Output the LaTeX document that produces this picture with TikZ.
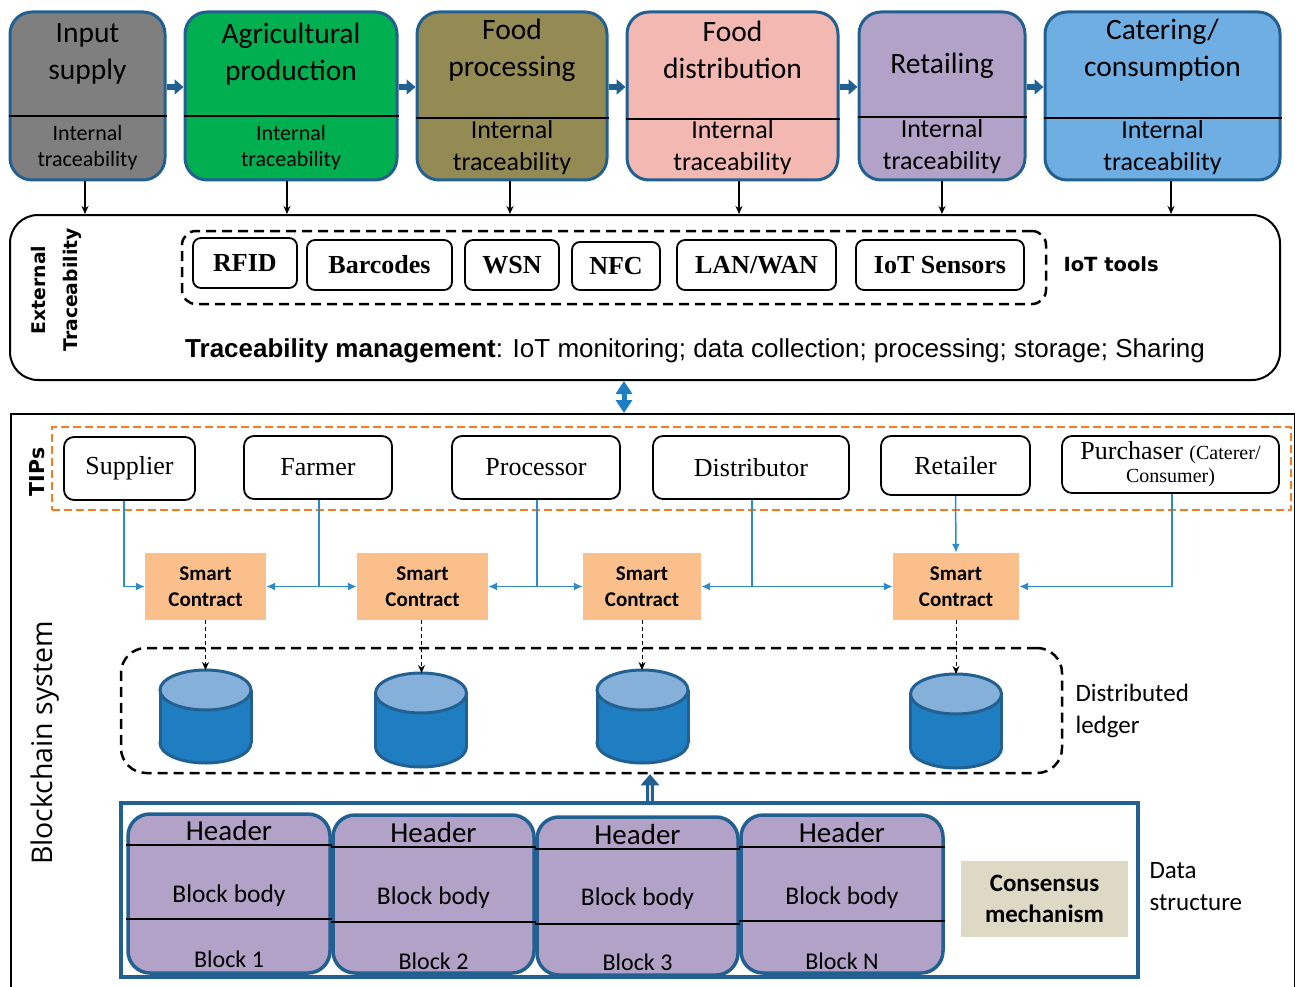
\documentclass[tikz,border=0pt]{standalone}
\usepackage{fontspec}
\setmainfont{Carlito}
\newfontfamily\tnr{Liberation Serif}
\newfontfamily\arl{Liberation Sans}
\newfontfamily\dvs{DejaVu Sans}
\newfontfamily\osn{Open Sans}
\usetikzlibrary{arrows.meta,calc}
\newcommand\myfs[2]{\fontsize{#1}{#2}\selectfont}
\definecolor{dkblue}{RGB}{34,96,145}
\definecolor{cgray}{RGB}{127,127,127}
\definecolor{cgreen}{RGB}{0,176,80}
\definecolor{colive}{RGB}{148,138,84}
\definecolor{cpink}{RGB}{243,184,178}
\definecolor{cpurple}{RGB}{179,162,199}
\definecolor{csky}{RGB}{111,174,226}
\definecolor{corange}{RGB}{245,124,32}
\definecolor{scor}{RGB}{251,191,139}
\definecolor{bl}{RGB}{46,139,203}
\definecolor{cylbody}{RGB}{31,125,193}
\definecolor{cyltop}{RGB}{133,176,218}
\definecolor{cons}{RGB}{221,217,196}
\definecolor{dblue}{RGB}{31,125,193}
\newcommand\mycyl[4]{%
  \fill[cylbody] (#2-45.5,#3+20) rectangle (#2+45.5,#4-20);
  \filldraw[fill=cylbody, draw=dkblue, line width=3pt] (#2,#4-20) ellipse (45.5pt and 20pt);
  \fill[cylbody] (#2-44,#3+20) rectangle (#2+44,#4-20);
  \draw[dkblue, line width=3pt] (#2-45.5,#3+20) -- (#2-45.5,#4-20);
  \draw[dkblue, line width=3pt] (#2+45.5,#3+20) -- (#2+45.5,#4-20);
  \filldraw[fill=cyltop, draw=dkblue, line width=3pt] (#2,#3+20) ellipse (45.5pt and 20pt);
  \coordinate (#1) at (#2,#3);}
\begin{document}
\begin{tikzpicture}[x=1pt,y=-1pt,
  topbox/.style={draw=dkblue, line width=3pt, rounded corners=22pt, inner sep=0pt},
  divl/.style={line width=1.3pt, black},
  ttl/.style={font=\myfs{29.5}{37}, align=center},
  itrs/.style={font=\myfs{22}{26}, align=center},
  itrl/.style={font=\myfs{26}{32}, align=center},
  flowarr/.style={dkblue, line width=6pt, -{Triangle[length=9pt,width=15pt]}},
  darr/.style={black, line width=1.6pt, -{Stealth[length=8pt,width=7pt]}},
  toolbox/.style={draw, line width=1.8pt, rounded corners=8pt, font=\tnr\bfseries\myfs{26}{30}, inner sep=0pt},
  tipbox/.style={draw, line width=1.8pt, rounded corners=10pt, font=\tnr\myfs{26}{30}, inner sep=0pt, fill=white, align=center},
  scbox/.style={fill=scor, font=\bfseries\myfs{21}{26}, align=center, inner sep=0pt},
  blink/.style={bl, line width=1.5pt, -{Latex[length=9pt,width=8pt]}},
  blinkn/.style={bl, line width=1.5pt},
  dasharr/.style={black, line width=1pt, dash pattern=on 4pt off 3pt, -{Stealth[length=8pt,width=7pt]}},
  blockbox/.style={draw=dkblue, line width=3.5pt, rounded corners=22pt, fill=cpurple, inner sep=0pt},
  hdr/.style={font=\myfs{29}{32}},
  bbody/.style={font=\myfs{25.5}{30}},
  bnum/.style={font=\myfs{24}{28}},
  side/.style={font=\myfs{25}{32}, align=left, anchor=west}
]
\useasboundingbox (0,0) rectangle (1295,987);

% ---------- top row ----------
\node[topbox, fill=cgray, minimum width=155pt, minimum height=168pt] (b1) at (87.5,96) {};
\node[topbox, fill=cgreen, minimum width=212pt, minimum height=168pt] (b2) at (291,96) {};
\node[topbox, fill=colive, minimum width=190pt, minimum height=168pt] (b3) at (512,96) {};
\node[topbox, fill=cpink, minimum width=211pt, minimum height=168pt] (b4) at (732.5,96) {};
\node[topbox, fill=cpurple, minimum width=166pt, minimum height=168pt] (b5) at (942,96) {};
\node[topbox, fill=csky, minimum width=235pt, minimum height=168pt] (b6) at (1162.5,96) {};

\draw[divl] (b1.west |- 0,116) -- (b1.east |- 0,116);
\draw[divl] (b2.west |- 0,116) -- (b2.east |- 0,116);
\draw[divl] (b3.west |- 0,118) -- (b3.east |- 0,118);
\draw[divl] (b4.west |- 0,119) -- (b4.east |- 0,119);
\draw[divl] (b5.west |- 0,117) -- (b5.east |- 0,117);
\draw[divl] (b6.west |- 0,118) -- (b6.east |- 0,118);

\node[ttl] (t1) at (87.5,54) {Input\\supply};
\node[ttl] (t2) at (291,54) {Agricultural\\production};
\node[ttl] (t3) at (512,50) {Food\\processing};
\node[ttl] (t4) at (732.5,50) {Food\\distribution};
\node[ttl] (t5) at (942,66) {Retailing};
\node[ttl] (t6) at (1162.5,50) {Catering/\\consumption};

\node[itrs] (i1) at (87.5,148) {Internal\\traceability};
\node[itrs] (i2) at (291,148) {Internal\\traceability};
\node[itrl] (i3) at (512,148) {Internal\\traceability};
\node[itrl] (i4) at (732.5,148) {Internal\\traceability};
\node[itrl] (i5) at (942,147) {Internal\\traceability};
\node[itrl] (i6) at (1162.5,148) {Internal\\traceability};

\draw[flowarr] (b1.east |- 0,87) -- (b2.west |- 0,87);
\draw[flowarr] (b2.east |- 0,87) -- (b3.west |- 0,87);
\draw[flowarr] (b3.east |- 0,87) -- (b4.west |- 0,87);
\draw[flowarr] (b4.east |- 0,87) -- (b5.west |- 0,87);
\draw[flowarr] (b5.east |- 0,87) -- (b6.west |- 0,87);

% ---------- external traceability ----------
\node[draw, line width=2pt, rounded corners=28pt, minimum width=1270pt, minimum height=165pt, inner sep=0pt] (ext) at (645,297.5) {};

\draw[darr] (b1.south -| 85,0) -- (ext.north -| 85,0);
\draw[darr] (b2.south -| 287,0) -- (ext.north -| 287,0);
\draw[darr] (b3.south -| 510,0) -- (ext.north -| 510,0);
\draw[darr] (b4.south -| 739,0) -- (ext.north -| 739,0);
\draw[darr] (b5.south -| 942,0) -- (ext.north -| 942,0);
\draw[darr] (b6.south -| 1171,0) -- (ext.north -| 1171,0);

\node[rotate=90, font=\dvs\bfseries\myfs{18.8}{32}, align=center] (extl) at (56,290) {External\\Traceability};

\node[draw, line width=2.5pt, dash pattern=on 10pt off 6pt, rounded corners=14pt, minimum width=864pt, minimum height=73pt, inner sep=0pt] (iot) at (614,267.5) {};
\node[toolbox, minimum width=104pt, minimum height=50pt] (rfid) at (245,263) {RFID};
\node[toolbox, minimum width=145pt, minimum height=50pt] (bar) at (379.5,265) {Barcodes};
\node[toolbox, minimum width=94pt, minimum height=50pt] (wsn) at (512,265) {WSN};
\node[toolbox, minimum width=88pt, minimum height=48pt] (nfc) at (616,266) {NFC};
\node[toolbox, minimum width=159pt, minimum height=50pt] (lan) at (756.5,265) {LAN/WAN};
\node[toolbox, minimum width=168pt, minimum height=50pt] (sens) at (940,265) {IoT Sensors};
\node[anchor=west, font=\dvs\bfseries\myfs{19.5}{24}] (iotl) at (1060,264) {IoT tools};

\node[anchor=base west, font=\arl\myfs{26}{30}, inner sep=0pt] (tm) at (185,357) {\textbf{Traceability management}: IoT monitoring; data collection; processing; storage; Sharing};

% ---------- blockchain system ----------
\node[draw, line width=2pt, minimum width=1284pt, minimum height=600pt, anchor=north west, inner sep=0pt] (bcs) at (10,413) {};
\draw[dblue, line width=5pt, {Triangle[length=13pt,width=16pt]}-{Triangle[length=13pt,width=16pt]}] (ext.south -| 624,0) -- (bcs.north -| 624,0);

\node[rotate=90, font=\dvs\bfseries\myfs{20.5}{24}] (tipsl) at (37,472) {TIPs};
\node[rotate=90, font=\osn\myfs{28.5}{32}] (bcl) at (45,743) {Blockchain system};

\node[draw=corange, line width=2.5pt, dash pattern=on 8pt off 4pt, minimum width=1239pt, minimum height=83pt, inner sep=0pt] (tips) at (671.5,468.5) {};
\node[tipbox, minimum width=131pt, minimum height=63pt] (sup) at (129.5,468.5) {Supplier};
\node[tipbox, minimum width=148pt, minimum height=63pt] (far) at (318,467.5) {Farmer};
\node[tipbox, minimum width=168pt, minimum height=63pt] (pro) at (536,467.5) {Processor};
\node[tipbox, minimum width=196pt, minimum height=63pt] (dis) at (751,467.5) {Distributor};
\node[tipbox, minimum width=149pt, minimum height=59pt] (ret) at (955.5,465.5) {Retailer};
\node[tipbox, minimum width=217pt, minimum height=57pt, font=\tnr\myfs{26}{27}] (pur) at (1170.5,464.5) {\raisebox{-3pt}{Purchaser {\myfs{20}{24}(Caterer/}}\\[-1pt]{\myfs{20}{24}Consumer)}};

\node[scbox, minimum width=121pt, minimum height=67pt] (sc1) at (205.5,586.5) {Smart\\Contract};
\node[scbox, minimum width=131pt, minimum height=67pt] (sc2) at (422.5,586.5) {Smart\\Contract};
\node[scbox, minimum width=118pt, minimum height=67pt] (sc3) at (642,586.5) {Smart\\Contract};
\node[scbox, minimum width=126pt, minimum height=67pt] (sc4) at (956,586.5) {Smart\\Contract};

\draw[blink] ([xshift=-5.5pt]sup.south) |- (sc1.west);
\coordinate (jf) at ([xshift=1pt]far.south |- sc1.east);
\draw[blinkn] ([xshift=1pt]far.south) -- (jf);
\draw[blink] (jf) -- (sc1.east);
\draw[blink] (jf) -- (sc2.west);
\coordinate (jp) at ([xshift=1pt]pro.south |- sc2.east);
\draw[blinkn] ([xshift=1pt]pro.south) -- (jp);
\draw[blink] (jp) -- (sc2.east);
\draw[blink] (jp) -- (sc3.west);
\coordinate (jd) at ([xshift=1pt]dis.south |- sc3.east);
\draw[blinkn] ([xshift=1pt]dis.south) -- (jd);
\draw[blink] (jd) -- (sc3.east);
\draw[blink] (jd) -- (sc4.west);
\draw[blink] (ret.south) -- (sc4.north);
\draw[blink] ([xshift=1.5pt]pur.south) |- (sc4.east);

% ---------- distributed ledger ----------
\node[draw, line width=2.5pt, dash pattern=on 10pt off 6pt, rounded corners=25pt, minimum width=941pt, minimum height=125pt, inner sep=0pt] (led) at (591.5,710.5) {};
\mycyl{cy1}{205.5}{670}{763}
\mycyl{cy2}{421}{673}{767}
\mycyl{cy3}{642.5}{670}{763}
\mycyl{cy4}{956}{674}{768}
\draw[dasharr] (sc1.south) -- (sc1.south |- cy1);
\draw[dasharr] ([xshift=-1pt]sc2.south) -- ([xshift=-1pt]sc2.south |- cy2);
\draw[dasharr] (sc3.south) -- (sc3.south |- cy3);
\draw[dasharr] (sc4.south) -- (sc4.south |- cy4);
\node[side] (dll) at (1072,711) {Distributed\\ledger};

% ---------- data structure ----------
\node[draw=dkblue, line width=3.5pt, fill=white, minimum width=1017pt, minimum height=174pt, inner sep=0pt] (ds) at (629.5,890) {};
\draw[dkblue, line width=2.8pt, double=white!85!dkblue, double distance=1.6pt, -{Triangle[length=11pt,width=18pt]}] (ds.north -| 650,0) -- (led.south -| 650,0);

\node[blockbox, minimum width=202pt, minimum height=159pt] (k1) at (229,893.5) {};
\node[blockbox, minimum width=201pt, minimum height=158pt] (k2) at (433.5,894) {};
\node[blockbox, minimum width=201pt, minimum height=158pt] (k3) at (637.5,896) {};
\node[blockbox, minimum width=202pt, minimum height=158pt] (k4) at (842,894) {};

\draw[divl] (k1.west |- 0,845) -- (k1.east |- 0,845);
\draw[divl] (k1.west |- 0,919) -- (k1.east |- 0,919);
\draw[divl] (k2.west |- 0,847) -- (k2.east |- 0,847);
\draw[divl] (k2.west |- 0,922) -- (k2.east |- 0,922);
\draw[divl] (k3.west |- 0,849) -- (k3.east |- 0,849);
\draw[divl] (k3.west |- 0,924) -- (k3.east |- 0,924);
\draw[divl] (k4.west |- 0,847) -- (k4.east |- 0,847);
\draw[divl] (k4.west |- 0,921) -- (k4.east |- 0,921);

\node[hdr] (h1) at (229,831) {Header};
\node[hdr] (h2) at (433.5,833) {Header};
\node[hdr] (h3) at (637.5,835) {Header};
\node[hdr] (h4) at (842,833) {Header};
\node[bbody] (y1) at (229,896) {Block body};
\node[bbody] (y2) at (433.5,898) {Block body};
\node[bbody] (y3) at (637.5,899) {Block body};
\node[bbody] (y4) at (842,898) {Block body};
\node[bnum] (n1) at (229,959) {Block 1};
\node[bnum] (n2) at (433.5,961) {Block 2};
\node[bnum] (n3) at (637.5,962) {Block 3};
\node[bnum] (n4) at (842,961) {Block N};

\node[fill=cons, minimum width=167pt, minimum height=76pt, inner sep=0pt, font=\bfseries\myfs{25}{31}, align=center] (cm) at (1044.5,899) {Consensus\\mechanism};
\node[side] (dsl) at (1146,887) {Data\\structure};
\end{tikzpicture}
\end{document}
